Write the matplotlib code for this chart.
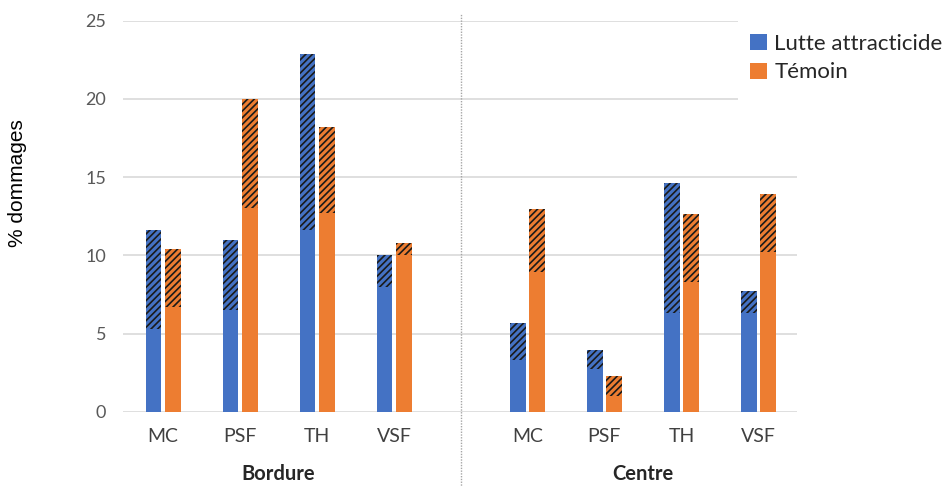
import matplotlib.pyplot as plt
from matplotlib.patches import Rectangle
import numpy as np

categories = ['MC', 'PSF', 'TH', 'VSF']
groups = ['Bordure', 'Centre']

# Lutte attracticide: solid part and total height (hatched part on top)
lutte_base = [5.3, 6.5, 11.6, 8.0, 3.3, 2.7, 6.3, 6.3]
lutte_top = [11.6, 11.0, 22.9, 10.0, 5.65, 3.95, 14.65, 7.7]
# Temoin
temoin_base = [6.7, 13.0, 12.7, 10.0, 8.95, 1.0, 8.3, 10.2]
temoin_top = [10.4, 20.0, 18.2, 10.8, 12.95, 2.3, 12.65, 13.95]

BLUE = '#4472C4'
ORANGE = '#ED7D31'
plt.rcParams['hatch.linewidth'] = 1.2

fig = plt.figure(figsize=(9.51, 4.87), dpi=100)
ax = fig.add_axes([123 / 951, 1 - 411.7 / 487, (797 - 123) / 951, (411.7 - 20.7) / 487])

x = np.array([0, 1, 2, 3, 4.73, 5.73, 6.73, 7.73])
w = 0.205
off = 0.125

ax.bar(x - off, lutte_base, w, color=BLUE, label='Lutte attracticide', zorder=2)
ax.bar(x - off, np.array(lutte_top) - np.array(lutte_base), w, bottom=lutte_base,
       color=BLUE, hatch='/////', edgecolor='#1a1a1a', linewidth=0, zorder=2)
ax.bar(x + off, temoin_base, w, color=ORANGE, label='Témoin', zorder=2)
ax.bar(x + off, np.array(temoin_top) - np.array(temoin_base), w, bottom=temoin_base,
       color=ORANGE, hatch='/////', edgecolor='#1a1a1a', linewidth=0, zorder=2)

ax.set_xlim(-0.52, 8.23)
ax.set_ylim(0, 25)
ax.set_yticks(range(0, 26, 5))
ax.yaxis.grid(True, color='#d9d9d9', linewidth=1.2, zorder=0)
ax.set_axisbelow(True)
for s in ax.spines.values():
    s.set_visible(False)
ax.tick_params(length=0)
ax.tick_params(axis='y', labelsize=13, labelcolor='#595959', pad=12)
for t in ax.get_yticklabels():
    t.set_fontfamily('Lato')

ax.set_xticks(x)
ax.set_xticklabels(categories * 2, fontsize=14, color='#404040', family='Lato')
ax.tick_params(axis='x', pad=12)

# divider between groups
xd = (x[3] + x[4]) / 2
ax.plot([xd, xd], [-9, 25.5], color='#a6a6a6', linestyle=(0, (1, 1)), linewidth=1,
        clip_on=False, zorder=1)

ax.text((x[0] + x[3]) / 2, -4.0, groups[0], ha='center', va='center', fontsize=14.5,
        fontweight='bold', family='Lato', color='#262626')
ax.text((x[4] + x[7]) / 2, -4.0, groups[1], ha='center', va='center', fontsize=14.5,
        fontweight='bold', family='Lato', color='#262626')

fig.text(18 / 951, 1 - 183 / 487, '% dommages', rotation=90, ha='center', va='center',
         fontsize=15, family='Liberation Sans')

# white area behind the legend hides the top gridlines
fig.add_artist(Rectangle((738 / 951, 1 - 110 / 487), 1, 110 / 487,
                         transform=fig.transFigure, facecolor='white',
                         edgecolor='none', zorder=3))

leg = fig.legend(loc='upper left', bbox_to_anchor=(750 / 951, 1 - 34 / 487),
                 frameon=False, handlelength=0.75, handleheight=0.75,
                 handletextpad=0.35, labelspacing=0.38, borderpad=0,
                 borderaxespad=0, prop={'family': 'Lato', 'size': 16})
leg.set_zorder(4)
for t in leg.get_texts():
    t.set_color('#262626')

plt.savefig('out.png', dpi=100)
